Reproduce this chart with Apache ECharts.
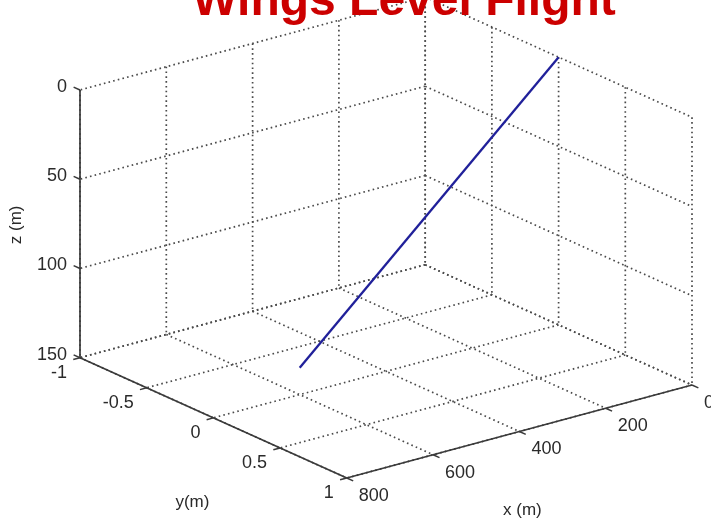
<!DOCTYPE html>
<html><head><meta charset="utf-8">
<script src="https://cdn.jsdelivr.net/npm/echarts@6/dist/echarts.min.js"></script>
<style>html,body{margin:0;padding:0;background:#fff}#c{width:711px;height:522px}</style>
</head><body><div id="c"></div>
<script>
// ---- data ----
const titleText = 'Wings Level Flight';
const xTicks = [0, 200, 400, 600, 800];
const yTicks = [-1, -0.5, 0, 0.5, 1];
const zTicks = [0, 50, 100, 150];
const xTickLabels = ['0', '200', '400', '600', '800'];
const yTickLabels = ['-1', '-0.5', '0', '0.5', '1'];
const zTickLabels = ['0', '50', '100', '150'];
const xName = 'x (m)', yName = 'y(m)', zName = 'z (m)';
const flightX = [0, 600];
const flightY = [0, 0];
const flightZ = [0, 135];

// ---- 3D view (orthographic, z reversed) ----
const X0 = 0, X1 = 800, Y0 = -1, Y1 = 1, Z0 = 0, Z1 = 150;
const AZ = 142.3 * Math.PI / 180, EL = 20.4 * Math.PI / 180, LZ = 0.655;
function proj(x, y, z) {
  const xn = (x - X0) / (X1 - X0), yn = (y - Y0) / (Y1 - Y0), h = (Z1 - z) / (Z1 - Z0);
  const u = xn * Math.cos(AZ) + yn * Math.sin(AZ);
  const v = -xn * Math.sin(AZ) * Math.sin(EL) + yn * Math.cos(AZ) * Math.sin(EL) + LZ * h * Math.cos(EL);
  return [u, v];
}
const corners = [];
[X0, X1].forEach(x => [Y0, Y1].forEach(y => [Z0, Z1].forEach(z => corners.push(proj(x, y, z)))));
const uMin = Math.min(...corners.map(c => c[0])), uMax = Math.max(...corners.map(c => c[0]));
const vMin = Math.min(...corners.map(c => c[1])), vMax = Math.max(...corners.map(c => c[1]));

// ---- segments ----
const gridSegs = [];
xTicks.forEach(x => { gridSegs.push([x, Y0, Z0, x, Y0, Z1]); gridSegs.push([x, Y0, Z1, x, Y1, Z1]); });
yTicks.forEach(y => { gridSegs.push([X0, y, Z0, X0, y, Z1]); gridSegs.push([X0, y, Z1, X1, y, Z1]); });
zTicks.forEach(z => { gridSegs.push([X0, Y0, z, X1, Y0, z]); gridSegs.push([X0, Y0, z, X0, Y1, z]); });
const axisSegs = [
  [X1, Y0, Z0, X1, Y0, Z1],
  [X1, Y0, Z1, X1, Y1, Z1],
  [X0, Y1, Z1, X1, Y1, Z1]
];
const tickItems = [];
zTicks.forEach(z => tickItems.push([X1, Y0, z, 0, -(Y1 - Y0), 0]));
yTicks.forEach(y => tickItems.push([X1, y, Z1, (X1 - X0), 0, 0]));
xTicks.forEach(x => tickItems.push([x, Y1, Z1, 0, (Y1 - Y0), 0]));

const labels = [];
zTicks.forEach((z, i) => labels.push({ p: [X1, Y0, z], t: zTickLabels[i], dx: -13, dy: -3, align: 'right' }));
yTicks.forEach((y, i) => labels.push({ p: [X1, y, Z1], t: yTickLabels[i], dx: -13, dy: 15, align: 'right' }));
xTicks.forEach((x, i) => labels.push({ p: [x, Y1, Z1], t: xTickLabels[i], dx: 12, dy: 18, align: 'left' }));
labels.push({ p: [(X0 + X1) / 2, Y1, Z1], t: xName, dx: 3, dy: 79, align: 'center', size: 17 });
labels.push({ p: [X1, (Y0 + Y1) / 2, Z1], t: yName, dx: -21, dy: 84, align: 'center', size: 17 });
labels.push({ p: [X1, Y0, (Z0 + Z1) / 2], t: zName, dx: -64, dy: 1, align: 'center', size: 17, rot: Math.PI / 2 });

const FONT = '"Liberation Sans", Arial, Helvetica, sans-serif';

function segRender(style) {
  return function (params, api) {
    const a = api.coord(proj(api.value(0), api.value(1), api.value(2)));
    const b = api.coord(proj(api.value(3), api.value(4), api.value(5)));
    return { type: 'line', shape: { x1: a[0], y1: a[1], x2: b[0], y2: b[1] }, style: style };
  };
}

const chart = echarts.init(document.getElementById('c'), null, { renderer: 'canvas' });
chart.setOption({
  animation: false,
  backgroundColor: '#fff',
  grid: { left: 80, width: 612, top: -3, height: 481, outerBoundsMode: 'none', containLabel: false },
  xAxis: { type: 'value', min: uMin, max: uMax, show: false },
  yAxis: { type: 'value', min: vMin, max: vMax, show: false },
  graphic: [{
    type: 'text', x: 404, y: 26, z: 100,
    style: { text: titleText, font: 'bold 48px ' + FONT, fill: '#cc0000', align: 'center', verticalAlign: 'bottom' }
  }],
  series: [
    {
      type: 'custom', silent: true, clip: false,
      data: gridSegs,
      renderItem: segRender({ stroke: '#4a4a4a', lineWidth: 1.7, lineDash: [1.6, 3.2] })
    },
    {
      type: 'custom', silent: true, clip: false,
      data: axisSegs,
      renderItem: segRender({ stroke: '#3a3a3a', lineWidth: 1.7 })
    },
    {
      type: 'custom', silent: true, clip: false,
      data: tickItems,
      renderItem: function (params, api) {
        const x = api.value(0), y = api.value(1), z = api.value(2);
        const a = api.coord(proj(x, y, z));
        const b = api.coord(proj(x + api.value(3), y + api.value(4), z + api.value(5)));
        const dx = b[0] - a[0], dy = b[1] - a[1], L = Math.hypot(dx, dy) || 1;
        const len = 7;
        return { type: 'line', shape: { x1: a[0], y1: a[1], x2: a[0] + dx / L * len, y2: a[1] + dy / L * len },
          style: { stroke: '#3a3a3a', lineWidth: 1.5 } };
      }
    },
    {
      type: 'custom', silent: true, clip: false,
      data: labels.map(l => l.p),
      renderItem: function (params, api) {
        const l = labels[params.dataIndex];
        const a = api.coord(proj(l.p[0], l.p[1], l.p[2]));
        return {
          type: 'text', x: a[0] + l.dx, y: a[1] + l.dy, rotation: l.rot || 0,
          style: { text: l.t, font: (l.size || 18) + 'px ' + FONT, fill: '#2a2a2a', align: l.align, verticalAlign: 'middle' }
        };
      }
    },
    {
      type: 'line', silent: true, showSymbol: false, clip: false, z: 5,
      data: flightX.map((x, i) => proj(x, flightY[i], flightZ[i])),
      lineStyle: { color: '#20209a', width: 2.3 }
    }
  ]
});
</script>
</body></html>
